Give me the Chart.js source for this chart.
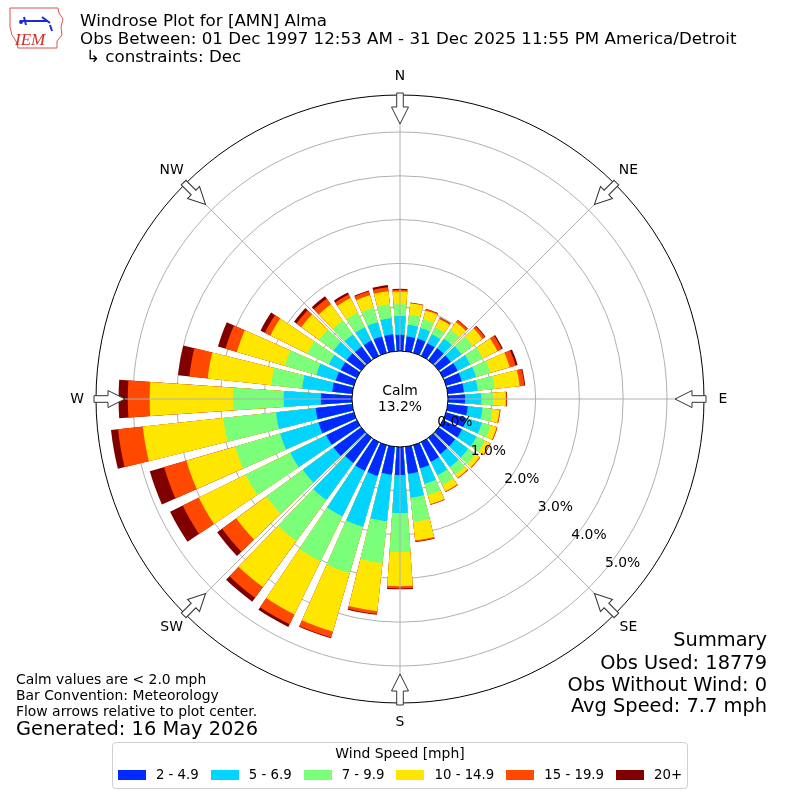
<!DOCTYPE html>
<html>
<head>
<meta charset="utf-8">
<script src="https://cdn.jsdelivr.net/npm/chart.js@4.4.1/dist/chart.umd.min.js"></script>
<style>
  body { margin: 0; background: #fff; font-family: "DejaVu Sans", sans-serif; }
  #wrap { position: relative; width: 800px; height: 800px; overflow: hidden; }
  #rose { position: absolute; left: 0; top: 0; }
  .txt { position: absolute; white-space: nowrap; color: #000; }
  .head { left: 80px; font-size: 16.7px; line-height: 18px; }
  .note { left: 16px; font-size: 13.9px; line-height: 16.5px; }
  .summary { right: 33px; font-size: 19.4px; line-height: 22px; text-align: right; }
  #legend { position: absolute; left: 112px; top: 742px; width: 574px; height: 45px;
            border: 1px solid #d0d0d0; border-radius: 4px; background: #fff; }
  #legend .ltitle { position: absolute; left: 0; right: 0; top: 2px; text-align: center; font-size: 13.9px; }
  #legend .row { position: absolute; left: 0; right: 0; top: 24px; display: flex; justify-content: center;
                 font-size: 13.3px; white-space: nowrap; }
  #legend .item { display: flex; align-items: center; margin: 0 6px; flex-shrink: 0; }
  #legend .patch { width: 28px; height: 10px; margin-right: 10px; flex-shrink: 0; }
  #logo { position: absolute; left: 6px; top: 5px; }
</style>
</head>
<body>
<div id="wrap">
  <canvas id="rose" width="800" height="800"></canvas>

  <svg id="logo" width="60" height="46" viewBox="0 0 60 46">
    <path d="M4 3 L52 3 L53 8 L57 14 L55 22 L56 30 L51 36 L51 43 L12 43 L10 36 L6 30 L4 22 Z"
          fill="none" stroke="#d9534f" stroke-width="1"/>
    <path d="M14 16 L42 16 M18 12 L20 20 M36 12 L44 18 M44 20 L46 26" stroke="#1a2bd6" stroke-width="2" fill="none"/>
    <circle cx="15" cy="17" r="2" fill="#1a2bd6"/>
    <text x="9" y="40" font-family="Liberation Serif, serif" font-style="italic" font-size="17" fill="#d42a2a">IEM</text>
  </svg>

  <div class="txt head" style="top:11px">Windrose Plot for [AMN] Alma</div>
  <div class="txt head" style="top:29px">Obs Between: 01 Dec 1997 12:53 AM - 31 Dec 2025 11:55 PM America/Detroit</div>
  <div class="txt head" style="top:47px;left:86px">↳ constraints: Dec</div>

  <div class="txt note" style="top:671px">Calm values are &lt; 2.0 mph</div>
  <div class="txt note" style="top:687px">Bar Convention: Meteorology</div>
  <div class="txt note" style="top:703px">Flow arrows relative to plot center.</div>
  <div class="txt" style="left:16px;top:718px;font-size:19.4px;line-height:22px">Generated: 16 May 2026</div>

  <div class="txt summary" style="top:629px">Summary</div>
  <div class="txt summary" style="top:652px">Obs Used: 18779</div>
  <div class="txt summary" style="top:674px">Obs Without Wind: 0</div>
  <div class="txt summary" style="top:695px">Avg Speed: 7.7 mph</div>

  <div id="legend">
    <div class="ltitle">Wind Speed [mph]</div>
    <div class="row" id="legendRow"></div>
  </div>
</div>

<script>
// wind direction of each bar, degrees clockwise from north
const directions = [0, 10, 20, 30, 40, 50, 60, 70, 80, 90, 100, 110, 120, 130, 140, 150, 160, 170,
                    180, 190, 200, 210, 220, 230, 240, 250, 260, 270, 280, 290, 300, 310, 320, 330, 340, 350];

const speedBins = ['2 - 4.9', '5 - 6.9', '7 - 9.9', '10 - 14.9', '15 - 19.9', '20+'];
const binColors = ['#002aff', '#00d4ff', '#7bff7b', '#ffe600', '#ff4800', '#800000'];

// frequency (%) per direction for each speed bin
const bin2to5   = [0.37, 0.34, 0.34, 0.32, 0.34, 0.34, 0.37, 0.37, 0.37, 0.39, 0.46, 0.48, 0.48, 0.46, 0.46, 0.50, 0.55, 0.62,
                   0.64, 0.64, 0.73, 0.73, 0.71, 0.78, 0.78, 0.84, 0.84, 0.71, 0.46, 0.43, 0.41, 0.41, 0.39, 0.39, 0.39, 0.39];
const bin5to7   = [0.43, 0.27, 0.25, 0.23, 0.27, 0.30, 0.32, 0.34, 0.32, 0.37, 0.34, 0.37, 0.37, 0.37, 0.37, 0.34, 0.37, 0.55,
                   0.87, 1.07, 1.21, 1.16, 1.05, 0.87, 0.91, 0.91, 0.91, 0.85, 0.69, 0.46, 0.30, 0.37, 0.34, 0.34, 0.34, 0.37];
const bin7to10  = [0.27, 0.23, 0.21, 0.18, 0.25, 0.32, 0.32, 0.34, 0.39, 0.27, 0.23, 0.21, 0.21, 0.21, 0.21, 0.25, 0.27, 0.55,
                   0.89, 0.96, 1.10, 1.14, 1.16, 1.03, 1.14, 1.07, 1.21, 1.16, 0.71, 0.75, 0.55, 0.41, 0.39, 0.37, 0.34, 0.32];
const bin10to15 = [0.29, 0.26, 0.21, 0.21, 0.21, 0.27, 0.37, 0.46, 0.57, 0.29, 0.16, 0.14, 0.13, 0.11, 0.09, 0.16, 0.21, 0.43,
                   0.78, 1.10, 1.39, 1.35, 1.30, 0.85, 1.19, 1.16, 1.85, 1.90, 1.46, 1.14, 0.94, 0.50, 0.46, 0.37, 0.30, 0.30];
const bin15to20 = [0.04, 0.01, 0.03, 0.03, 0.06, 0.07, 0.11, 0.14, 0.11, 0.02, 0.02, 0.02, 0.02, 0.02, 0.02, 0.02, 0.02, 0.03,
                   0.05, 0.07, 0.14, 0.25, 0.30, 0.40, 0.41, 0.53, 0.57, 0.50, 0.42, 0.27, 0.14, 0.14, 0.16, 0.09, 0.09, 0.09];
const bin20plus = [0.02, 0.01, 0.01, 0.01, 0.01, 0.02, 0.03, 0.05, 0.02, 0.01, 0.00, 0.00, 0.00, 0.00, 0.00, 0.00, 0.00, 0.01,
                   0.02, 0.02, 0.02, 0.07, 0.11, 0.14, 0.32, 0.34, 0.16, 0.21, 0.26, 0.18, 0.11, 0.07, 0.07, 0.05, 0.02, 0.05];

const ringTicks = [0, 1, 2, 3, 4, 5];
const compassLabels = ['N', 'NE', 'E', 'SE', 'S', 'SW', 'W', 'NW'];
const calmPct = 13.2;

// radial axis: calm circle occupies the middle, outer edge a bit past 5.8 %
const rMin = -1.096;
const rMax = 5.845;
const barWidthDeg = 7.8;
const gapDeg = 10 - barWidthDeg;
const gridGray = '#b0b0b0';
const labelFont = '13.9px "DejaVu Sans"';

// stacked bars: each ring is drawn from the centre out to its cumulative value
const seriesList = [bin2to5, bin5to7, bin7to10, bin10to15, bin15to20, bin20plus];
const cumulative = [];
let running = directions.map(() => 0);
seriesList.forEach(s => {
  running = running.map((v, i) => v + s[i]);
  cumulative.push(running.slice());
});

// every direction gets a bar slot followed by an empty gap slot
const slotLabels = [];
directions.forEach(d => { slotLabels.push(d + '°'); slotLabels.push(''); });

const datasets = cumulative.map((cum, k) => ({
  label: speedBins[k],
  data: cum.flatMap(v => [v, 0]),
  backgroundColor: ctx => (ctx.index % 2 ? 'rgba(0,0,0,0)' : binColors[k]),
  angle: ctx => (ctx.index % 2 ? gapDeg : barWidthDeg),
  borderWidth: 0
}));

function drawArrow(ctx, rOuter) {
  // open flow arrow, pointing from the rim toward the centre (rotated frame, north = -y)
  ctx.beginPath();
  ctx.moveTo(-3.3, -rOuter - 2);
  ctx.lineTo(3.3, -rOuter - 2);
  ctx.lineTo(3.3, -rOuter + 12);
  ctx.lineTo(8.5, -rOuter + 12);
  ctx.lineTo(0, -rOuter + 29);
  ctx.lineTo(-8.5, -rOuter + 12);
  ctx.lineTo(-3.3, -rOuter + 12);
  ctx.closePath();
  ctx.fillStyle = '#fff';
  ctx.fill();
  ctx.strokeStyle = '#333';
  ctx.lineWidth = 1;
  ctx.stroke();
}

const roseDecor = {
  id: 'roseDecor',
  afterDatasetsDraw(chart) {
    const r = chart.scales.r;
    const ctx = chart.ctx;
    const rOuter = r.getDistanceFromCenterForValue(rMax);
    ctx.save();
    ctx.strokeStyle = gridGray;
    ctx.lineWidth = 1;
    for (let i = 0; i < 8; i++) {
      const a = i * 45 * Math.PI / 180;
      ctx.beginPath();
      ctx.moveTo(r.xCenter, r.yCenter);
      ctx.lineTo(r.xCenter + rOuter * Math.sin(a), r.yCenter - rOuter * Math.cos(a));
      ctx.stroke();
    }
    ctx.restore();
  },
  afterDraw(chart) {
    const r = chart.scales.r;
    const ctx = chart.ctx;
    const cx = r.xCenter, cy = r.yCenter;
    const rCalm = r.getDistanceFromCenterForValue(0);
    const rOuter = r.getDistanceFromCenterForValue(rMax);
    ctx.save();

    // calm circle
    ctx.beginPath();
    ctx.arc(cx, cy, rCalm, 0, Math.PI * 2);
    ctx.fillStyle = '#fff';
    ctx.fill();
    ctx.strokeStyle = '#000';
    ctx.lineWidth = 1;
    ctx.stroke();
    ctx.fillStyle = '#000';
    ctx.font = labelFont;
    ctx.textAlign = 'center';
    ctx.textBaseline = 'middle';
    ctx.fillText('Calm', cx, cy - 8);
    ctx.fillText(calmPct.toFixed(1) + '%', cx, cy + 8);

    // ring labels along the 130 degree bearing
    const la = 130 * Math.PI / 180;
    ringTicks.forEach(v => {
      const rr = r.getDistanceFromCenterForValue(v);
      ctx.fillText(v.toFixed(1) + '%', cx + rr * Math.sin(la) + 18, cy - rr * Math.cos(la) - 7);
    });

    // compass arrows and labels
    compassLabels.forEach((lab, i) => {
      const a = i * 45 * Math.PI / 180;
      ctx.save();
      ctx.translate(cx, cy);
      ctx.rotate(a);
      drawArrow(ctx, rOuter);
      ctx.restore();
      ctx.fillStyle = '#000';
      ctx.fillText(lab, cx + (rOuter + 19) * Math.sin(a), cy - (rOuter + 19) * Math.cos(a));
    });
    ctx.restore();
  }
};

new Chart(document.getElementById('rose'), {
  type: 'polarArea',
  data: { labels: slotLabels, datasets: datasets },
  options: {
    responsive: false,
    animation: false,
    events: [],
    layout: { padding: { left: 96, right: 96, top: 95, bottom: 97 } },
    plugins: { legend: { display: false }, tooltip: { enabled: false } },
    scales: {
      r: {
        z: 1,
        min: rMin,
        max: rMax,
        beginAtZero: false,
        startAngle: -barWidthDeg / 2,
        afterBuildTicks: scale => {
          scale.ticks = ringTicks.concat([rMax]).map(v => ({ value: v }));
        },
        ticks: { display: false },
        pointLabels: { display: false },
        angleLines: { display: false },
        grid: {
          circular: true,
          color: ctx => (ctx.tick && ctx.tick.value === rMax ? '#000' : gridGray),
          lineWidth: 1
        }
      }
    }
  },
  plugins: [roseDecor]
});

// legend built from the same bins and colours
const row = document.getElementById('legendRow');
speedBins.forEach((lab, k) => {
  const item = document.createElement('div');
  item.className = 'item';
  item.innerHTML = '<div class="patch" style="background:' + binColors[k] + '"></div><span>' + lab + '</span>';
  row.appendChild(item);
});
</script>
</body>
</html>
